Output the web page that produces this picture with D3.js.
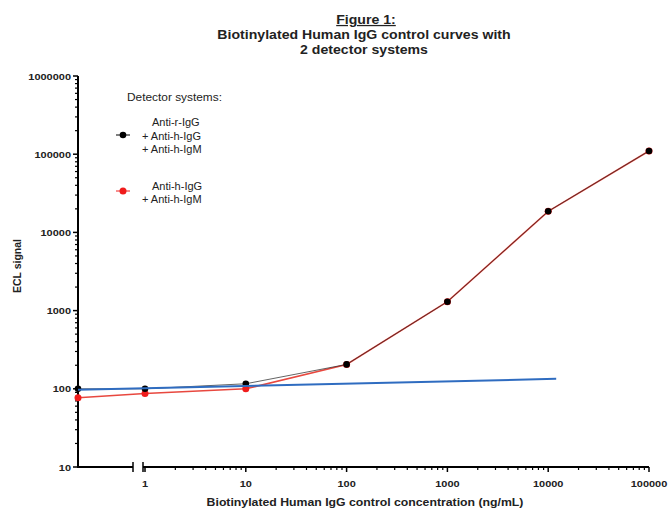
<!DOCTYPE html>
<html>
<head>
<meta charset="utf-8">
<script src="https://cdn.jsdelivr.net/npm/d3@7"></script>
<style>
  body { margin: 0; background: #fff; }
  text { font-family: "Liberation Sans", Arial, sans-serif; fill: #222; }
</style>
</head>
<body>
<div id="vis"></div>
<script>
// concentrations (ng/mL); 0 = blank, drawn on the short left segment
var concentrations = [0, 1, 10, 100, 1000, 10000, 100000];
var seriesBlack = [100, 100, 116, 205, 1300, 18600, 110000];
var seriesRed = [77, 87, 100, 205, 1300, 18600, 110000];
var fitConc = [0, 12000];
var fitValues = [97, 134];
var xTicks = [1, 10, 100, 1000, 10000, 100000];
var yTicks = [10, 100, 1000, 10000, 100000, 1000000];
var legendBlack = ["Anti-r-IgG", "+ Anti-h-IgG", "+ Anti-h-IgM"];
var legendRed = ["Anti-h-IgG", "+ Anti-h-IgM"];

var width = 671, height = 510;

var svg = d3.select('#vis').append('svg')
    .attr('width', width)
    .attr('height', height);

var y = d3.scaleLog().domain([10, 1e6]).range([467, 76]);
var x = d3.scaleLog().domain([1, 1e5]).range([145, 649]);
var xBlank = d3.scaleLinear().domain([0, 1]).range([78, 133]);

function xPos(c) {
    return c === 0 ? xBlank(0) : x(c);
}

// text in the original is a bit stretched sideways
function stext(sel, px, py, sx, str) {
    return sel.append('text')
        .attr('transform', 'translate(' + px + ',' + py + ') scale(' + sx + ',1)')
        .text(str);
}

// title
var title = svg.append('g').attr('font-weight', 'bold').attr('text-anchor', 'middle')
    .attr('font-size', 12.5);
stext(title, 366, 24, 1.13, 'Figure 1:').attr('text-decoration', 'underline');
stext(title, 364, 39, 1.13, 'Biotinylated Human IgG control curves with');
stext(title, 364, 54, 1.13, '2 detector systems');

// y axis
var minorY = [];
yTicks.slice(0, -1).forEach(function(t) {
    for (var k = 2; k <= 9; k++) minorY.push(t * k);
});
var yAxis = svg.append('g');
yAxis.append('line').attr('x1', 78).attr('x2', 78)
    .attr('y1', y(1e6)).attr('y2', y(10))
    .attr('stroke', '#000').attr('stroke-width', 2);
yAxis.selectAll('.ymaj').data(yTicks).enter().append('line')
    .attr('x1', 73).attr('x2', 78)
    .attr('y1', (d) => y(d)).attr('y2', (d) => y(d))
    .attr('stroke', '#000').attr('stroke-width', 1.5);
yAxis.selectAll('.ymin').data(minorY).enter().append('line')
    .attr('x1', 75).attr('x2', 78)
    .attr('y1', (d) => y(d)).attr('y2', (d) => y(d))
    .attr('stroke', '#000').attr('stroke-width', 1.2);
var yLab = yAxis.append('g').attr('text-anchor', 'end').attr('font-size', 9).attr('font-weight', 'bold');
yTicks.forEach(function(t) { stext(yLab, 71, y(t) + 3.5, 1.22, t); });

svg.append('text')
    .attr('transform', 'translate(21,' + 266 + ') rotate(-90)')
    .attr('text-anchor', 'middle').attr('font-size', 10.5).attr('font-weight', 'bold')
    .text('ECL signal');

// x axis, broken in two segments
var xAxis = svg.append('g');
xAxis.append('line').attr('x1', 77).attr('x2', xBlank(1))
    .attr('y1', 467).attr('y2', 467)
    .attr('stroke', '#000').attr('stroke-width', 2);
xAxis.append('line').attr('x1', xBlank(1)).attr('x2', xBlank(1))
    .attr('y1', 462).attr('y2', 472)
    .attr('stroke', '#000').attr('stroke-width', 1.5);
xAxis.append('line').attr('x1', 143).attr('x2', x(1e5))
    .attr('y1', 467).attr('y2', 467)
    .attr('stroke', '#000').attr('stroke-width', 2);
xAxis.append('line').attr('x1', 143).attr('x2', 143)
    .attr('y1', 462).attr('y2', 472)
    .attr('stroke', '#000').attr('stroke-width', 1.5);

var minorX = [];
xTicks.slice(0, -1).forEach(function(t) {
    for (var k = 2; k <= 9; k++) minorX.push(t * k);
});
xAxis.selectAll('.xmaj').data(xTicks).enter().append('line')
    .attr('x1', (d) => x(d)).attr('x2', (d) => x(d))
    .attr('y1', 467).attr('y2', 472)
    .attr('stroke', '#000').attr('stroke-width', 1.5);
xAxis.selectAll('.xmin').data(minorX).enter().append('line')
    .attr('x1', (d) => x(d)).attr('x2', (d) => x(d))
    .attr('y1', 467).attr('y2', 470)
    .attr('stroke', '#000').attr('stroke-width', 1.2);
var xLab = xAxis.append('g').attr('text-anchor', 'middle').attr('font-size', 9).attr('font-weight', 'bold');
xTicks.forEach(function(t) { stext(xLab, x(t), 487, 1.22, t); });

var xTitle = svg.append('g').attr('text-anchor', 'middle').attr('font-size', 10.5).attr('font-weight', 'bold');
stext(xTitle, 365, 506, 1.17, 'Biotinylated Human IgG control concentration (ng/mL)');

// curves
var pts = (vals) => concentrations.map((c, i) => [xPos(c), y(vals[i])]);
var line = d3.line();

svg.append('path').attr('d', line(pts(seriesRed)))
    .attr('fill', 'none').attr('stroke', '#e8483f').attr('stroke-width', 1.6);
svg.append('path').attr('d', line(pts(seriesBlack)))
    .attr('fill', 'none').attr('stroke', '#222').attr('stroke-width', 1)
    .attr('stroke-opacity', 0.7);

svg.selectAll('.pr').data(pts(seriesRed)).enter().append('circle')
    .attr('cx', (d) => d[0]).attr('cy', (d) => d[1]).attr('r', 3.5)
    .attr('fill', '#f01c1c');
svg.selectAll('.pb').data(pts(seriesBlack)).enter().append('circle')
    .attr('cx', (d) => d[0]).attr('cy', (d) => d[1]).attr('r', 3.3)
    .attr('fill', '#000');

// fit line
svg.append('path')
    .attr('d', line(fitConc.map((c, i) => [xPos(c), y(fitValues[i])])))
    .attr('fill', 'none').attr('stroke', '#2f6cc0').attr('stroke-width', 2);

// legend
var lg = svg.append('g').attr('font-size', 11);
stext(lg, 127, 101, 1.08, 'Detector systems:').attr('fill', '#333');

lg.append('line').attr('x1', 116).attr('x2', 130).attr('y1', 135).attr('y2', 135)
    .attr('stroke', '#000').attr('stroke-width', 1);
lg.append('circle').attr('cx', 123).attr('cy', 135).attr('r', 3.3).attr('fill', '#000');
legendBlack.forEach(function(s, i) {
    stext(lg, i === 0 ? 152 : 142, 126 + i * 13.5, 1.0, s);
});

lg.append('line').attr('x1', 116).attr('x2', 130).attr('y1', 191).attr('y2', 191)
    .attr('stroke', '#f01c1c').attr('stroke-width', 1);
lg.append('circle').attr('cx', 123).attr('cy', 191).attr('r', 3.5).attr('fill', '#f01c1c');
legendRed.forEach(function(s, i) {
    stext(lg, i === 0 ? 152 : 142, 190 + i * 13, 1.0, s);
});
</script>
</body>
</html>
